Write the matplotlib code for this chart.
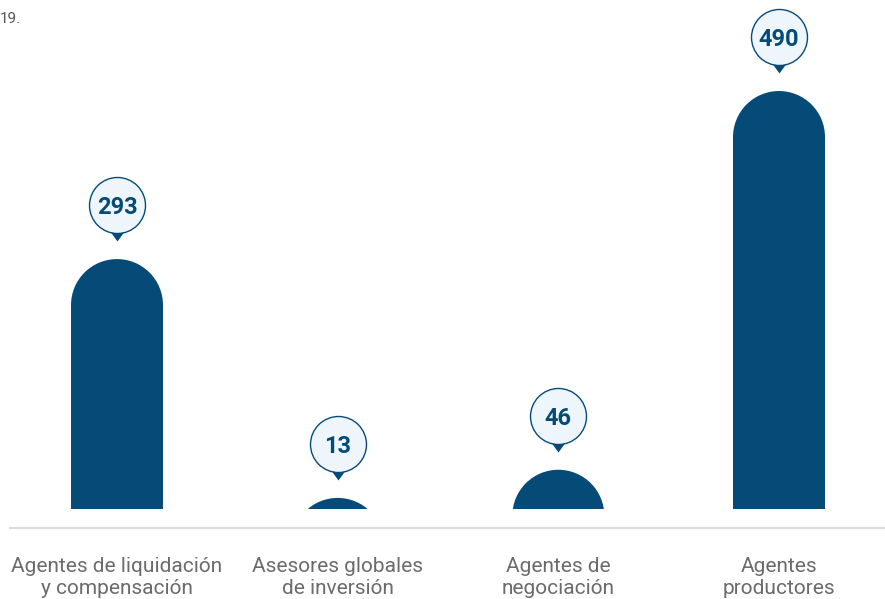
import matplotlib
matplotlib.use("Agg")
import matplotlib.pyplot as plt
from matplotlib.patches import Rectangle, Ellipse
from matplotlib.lines import Line2D
from matplotlib.transforms import blended_transform_factory

categories = ["Agentes de liquidación\ny compensación", "Asesores globales\nde inversión",
              "Agentes de\nnegociación", "Agentes\nproductores"]
values = [293, 13, 46, 490]

BAR = "#064B77"
FILL = "#EEF6FC"
GRAY_TXT = "#6B6B6B"

W, H, DPI = 885, 599, 100
fig = plt.figure(figsize=(W / DPI, H / DPI), dpi=DPI)
ax = fig.add_axes([0, 0, 1, 1])
ax.set_axis_off()

px_per_x = 220.67
x0_px = 117
base_px = 509            # from top
px_per_y = 0.853
ax.set_xlim(-x0_px / px_per_x, (W - x0_px) / px_per_x)
ax.set_ylim(-(H - base_px) / px_per_y, base_px / px_per_y)

bar_w_px = 92
rx = bar_w_px / 2 / px_per_x          # radius in x units
ry = bar_w_px / 2 / px_per_y          # radius in y units
clip = Rectangle((-5, 0), 20, 5000, transform=ax.transData, visible=False)
ax.add_patch(clip)

for i, v in enumerate(values):
    rect_h = max(v - ry, 0)
    r = Rectangle((i - rx, 0), 2 * rx, rect_h, facecolor=BAR, edgecolor="none", zorder=2)
    e = Ellipse((i, v - ry), 2 * rx, 2 * ry, facecolor=BAR, edgecolor="none", zorder=2)
    for p in (r, e):
        ax.add_patch(p)
        p.set_clip_path(clip)

# callouts
off = 54 / px_per_y
xs = list(range(len(values)))
ys = [v + off for v in values]
tri = [(-8, -25), (8, -25), (0, -36)]
tri_s = (36 * 72 / DPI * 2) ** 2
ax.scatter(xs, ys, marker=tri, s=tri_s, color=BAR, linewidths=0, zorder=3)
circ_d_pt = 56 * 72 / DPI
ax.scatter(xs, ys, marker="o", s=circ_d_pt ** 2, facecolor=FILL, edgecolor=BAR,
           linewidths=1.0, zorder=4)
for x, y, v in zip(xs, ys, values):
    ax.text(x, y, str(v), ha="center", va="center_baseline", fontsize=17,
            fontweight="bold", color=BAR, family="Roboto", zorder=5)

# baseline
fig.add_artist(Line2D([10 / W, 1], [1 - 528 / H, 1 - 528 / H], color="#DDDDDD",
                      linewidth=1.6))

# category labels
tr = blended_transform_factory(ax.transData, fig.transFigure)
for i, c in enumerate(categories):
    ax.text(i, 1 - 557 / H, c, ha="center", va="top", fontsize=15, color=GRAY_TXT,
            family="Roboto", linespacing=1.22, transform=tr)

fig.text(0, 1 - 19 / H, "19.", ha="left", va="center", fontsize=11,
         color="#555555", family="Roboto")

fig.savefig("out.png", dpi=DPI)
